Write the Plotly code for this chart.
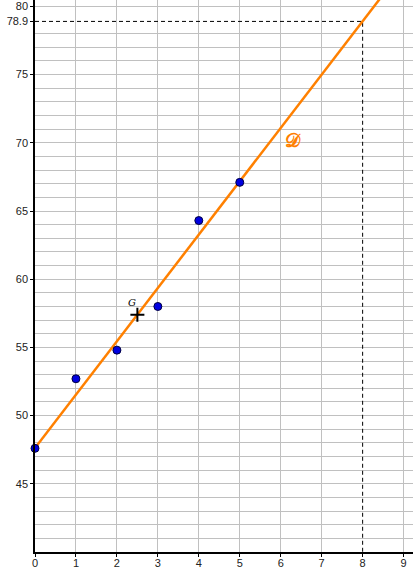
import plotly.graph_objects as go
import numpy as np

# ── Data ──────────────────────────────────────────────────────────────────
X_RANK  = [0, 1, 2, 3, 4, 5]
Y_VALUE = [47.6, 52.7, 54.8, 58.0, 64.3, 67.1]

G_X, G_Y = 2.5, 57.4          # mean point G
SLOPE, INTERCEPT = 3.91, 47.63  # fitted line D
PRED_X, PRED_Y = 8, 78.9       # reading on D

X_TICKS = list(range(0, 10))
Y_TICKS = [45, 50, 55, 60, 65, 70, 75, 80]

# ── Style ─────────────────────────────────────────────────────────────────
_ORANGE = "#FF8000"
_BLUE   = "#0000E0"
_GRID   = "#C0C0C0"
_TXT    = "#222222"
_FONT   = dict(family="Liberation Sans, Arial, sans-serif", size=11, color=_TXT)

X_MAX, Y_MIN, Y_MAX = 9.23, 40, 80.47
AX = dict(xaxis="x2", yaxis="y2")

fig = go.Figure()

# dashed reading lines (on the grid axes, same ranges)
fig.add_trace(go.Scatter(
    x=[0, PRED_X, PRED_X], y=[PRED_Y, PRED_Y, Y_MIN],
    mode="lines", line=dict(color="black", width=1, dash="4px,3px"),
    hoverinfo="skip", showlegend=False,
))

# regression line D
line_x = np.array([0, X_MAX])
fig.add_trace(go.Scatter(
    x=line_x, y=SLOPE * line_x + INTERCEPT,
    mode="lines", line=dict(color=_ORANGE, width=2.5),
    hoverinfo="skip", showlegend=False, **AX,
))

# observations
fig.add_trace(go.Scatter(
    x=X_RANK, y=Y_VALUE, mode="markers",
    marker=dict(color=_BLUE, size=8, line=dict(color="#000040", width=1)),
    showlegend=False, cliponaxis=False, **AX,
))

# mean point G
fig.add_trace(go.Scatter(
    x=[G_X], y=[G_Y], mode="markers",
    marker=dict(symbol="cross-thin", size=10, line=dict(color="black", width=2)),
    showlegend=False, **AX,
))

fig.add_annotation(x=G_X, y=G_Y, xref="x2", yref="y2", text="<i>G</i>",
                   showarrow=False, xshift=-5, yshift=12,
                   font=dict(family="DejaVu Serif, serif", size=10, color="black"))
fig.add_annotation(x=6.3, y=70.2, xref="x2", yref="y2", text="<b>𝒟</b>",
                   showarrow=False,
                   font=dict(family="DejaVu Serif, serif", size=19, color=_ORANGE))

grid_x = [v for v in range(0, 10) if v != PRED_X]
grid_y = [v for v in range(41, 81) if v != round(PRED_Y)]

fig.update_layout(
    width=413, height=569,
    paper_bgcolor="white", plot_bgcolor="white",
    font=_FONT,
    margin=dict(l=35, r=0, t=0, b=17, pad=0),
    showlegend=False,
    # grid axes
    xaxis=dict(range=[0, X_MAX], tickvals=grid_x, showticklabels=False,
               ticks="", showgrid=True, gridcolor=_GRID, gridwidth=1,
               zeroline=False, showline=False, automargin=False),
    yaxis=dict(range=[Y_MIN, Y_MAX], tickvals=grid_y, showticklabels=False,
               ticks="", showgrid=True, gridcolor=_GRID, gridwidth=1,
               zeroline=False, showline=False, automargin=False),
    # labelled axes
    xaxis2=dict(range=[0, X_MAX], overlaying="x", anchor="y2", side="bottom",
                tickvals=X_TICKS, ticks="outside", ticklen=3, tickcolor="black",
                ticklabelstandoff=-3,
                showgrid=False, zeroline=False, showline=True, automargin=False,
                linecolor="black", linewidth=1.5, tickfont=_FONT),
    yaxis2=dict(range=[Y_MIN, Y_MAX], overlaying="y", anchor="x2", side="left",
                tickvals=Y_TICKS + [PRED_Y], ticktext=[str(v) for v in Y_TICKS] + ["78.9"],
                ticks="outside", ticklen=3, tickcolor="black",
                showgrid=False, zeroline=False, showline=True, automargin=False,
                linecolor="black", linewidth=1.5, tickfont=_FONT),
)

# page has a default 8px body margin; drop it so the figure sits at the corner
fig.write_html("out.html", config={"displayModeBar": False},
               post_script="document.body.style.margin='0';")
